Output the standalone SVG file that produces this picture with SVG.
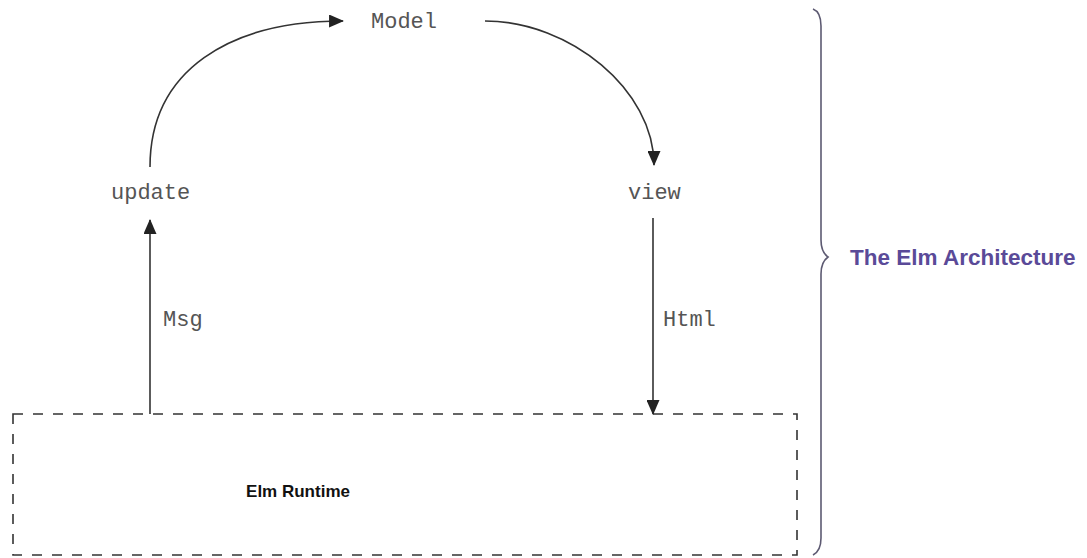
<svg xmlns="http://www.w3.org/2000/svg" width="1087" height="558" viewBox="0 0 1087 558">
  <style>
    .code { font-family: "Liberation Mono", "Courier New", monospace; font-size: 22px; fill: #555; }
    .edge { fill: none; stroke: #333; stroke-width: 1.6; }
    .title { font-family: "Liberation Sans", Arial, sans-serif; font-weight: bold; }
  </style>
  <defs>
    <marker id="head" viewBox="0 0 16 14" refX="15" refY="7" markerWidth="15" markerHeight="13" markerUnits="userSpaceOnUse" orient="auto">
      <path d="M0,0 L16,7 L0,14 Z" fill="#222"/>
    </marker>
  </defs>
  <rect width="1087" height="558" fill="#fff"/>

  <!-- runtime container -->
  <g id="runtime">
    <rect x="13" y="414" width="784" height="141" fill="none" stroke="#333" stroke-width="1.6" stroke-dasharray="10,10"/>
    <text class="title" x="298" y="497" font-size="17" text-anchor="middle" fill="#111">Elm Runtime</text>
  </g>

  <g id="model"><text class="code" x="371" y="28">Model</text></g>
  <g id="update"><text class="code" x="111" y="199">update</text></g>
  <g id="view"><text class="code" x="628" y="199">view</text></g>

  <!-- architecture brace -->
  <g id="architecture">
    <path d="M813,9 Q821,12 821,26 L821,240 Q821,252 828,257 Q821,262 821,274 L821,538 Q821,551 813,555" fill="none" stroke="#5d5a72" stroke-width="1.6"/>
    <text class="title" x="850" y="265" font-size="22.5" fill="#5a4a98">The Elm Architecture</text>
  </g>

  <g id="connectors">
    <path class="edge" d="M150,167 C150,70 230,21 343,21" marker-end="url(#head)"/>
    <path class="edge" d="M485,21 C570,21 654,90 654,165" marker-end="url(#head)"/>
    <path class="edge" d="M653,218 L653,414" marker-end="url(#head)"/>
    <path class="edge" d="M150,414 L150,220" marker-end="url(#head)"/>
    <text class="code" x="163" y="326">Msg</text>
    <text class="code" x="663" y="326">Html</text>
  </g>
</svg>
